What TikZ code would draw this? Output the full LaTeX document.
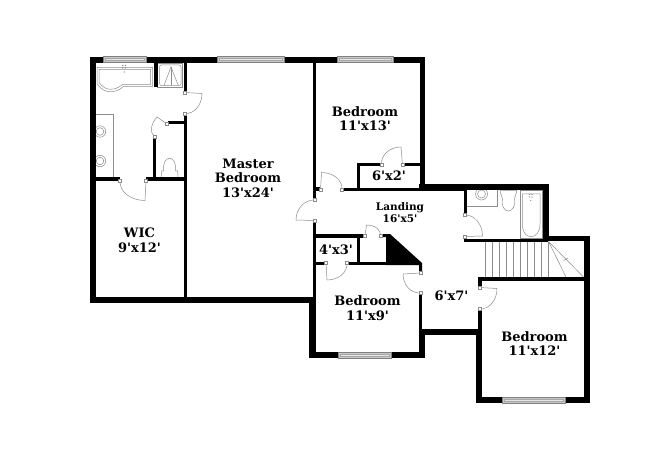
\documentclass[tikz,border=0pt]{standalone}
\usepackage{fontspec}
\newfontfamily\planfont{DejaVu Serif}
\usetikzlibrary{calc}
\tikzstyle{every node}=[font=\planfont\bfseries\fontsize{13}{14.5}\selectfont, text=black, align=center, inner sep=0pt]
\tikzstyle{wall} = [fill=black]
\tikzstyle{fixture} = [draw=black!45, line width=0.5pt]
\tikzstyle{window} = [draw=black!50, fill=black!22, line width=0.6pt]
\tikzstyle{jamb} = [draw=black!45, fill=white, line width=0.4pt]
\tikzstyle{small} = [font=\planfont\bfseries\fontsize{10.5}{12}\selectfont]
% door: hinge, end of the open leaf, other jamb
\newcommand{\doorswing}[3]{
  \draw [fixture] (#1) -- (#2) .. controls ($(#2)+0.55*(#3)-0.55*(#1)$) and ($(#3)+0.55*(#2)-0.55*(#1)$) .. (#3);
  \draw [jamb] ($(#1)+(-1.5,-1.5)$) rectangle ($(#1)+(1.5,1.5)$);
  \draw [jamb] ($(#3)+(-1.5,-1.5)$) rectangle ($(#3)+(1.5,1.5)$);
}
\begin{document}
\begin{tikzpicture}[x=1pt, y=-1pt]
  \useasboundingbox [fill=white] (0,0) rectangle (650,473);
  % master bath fixtures
  \draw [fixture] (97,67.5) -- (152.5,67.5) -- (152.5,86.5) -- (123.5,86.5) .. controls (116,93) and (105,95) .. (97,84) -- cycle;
  \draw [fixture] (99,69.5) -- (150.5,69.5) -- (150.5,84.5) -- (122.5,84.5) .. controls (115,90.5) and (106,92) .. (99,82.5) -- cycle;
  \fill [black!55] (122.8,65.5) circle (0.7) (125.3,65.5) circle (0.7) (122.8,68) circle (0.7) (125.3,68) circle (0.7) (124.3,72) circle (0.6);
  \draw [fixture] (157.5,63) rectangle (182.5,87);
  \draw [fixture, rounded corners=2pt] (159.5,65) rectangle (181,85.5);
  \draw [fixture] (164,85.5) -- (171,67) -- (178.3,85.5);
  \draw [fixture] (171,67) -- (171,85.5);
  \draw [fixture] (96,114.5) -- (113.5,114.5) -- (113.5,177.5);
  \foreach \ys in {131.5,161} {
    \draw [fixture] (100,\ys) circle (5.7);
    \draw [fixture] (100,\ys) circle (3.8);
  }
  \draw [fixture] (161,178) -- (161.7,171) -- (163.5,171) .. controls (163,162) and (166,158.3) .. (169.5,158.3) .. controls (173,158.3) and (176,162) .. (175.7,171) -- (177.7,171) -- (178,178);
  % hall bath fixtures
  \draw [fixture] (466.5,206.5) -- (497.5,206.5) -- (497.5,190.5);
  \draw [fixture] (481.5,194) circle (6);
  \draw [fixture] (481.5,194) circle (4);
  \draw [fixture] (500,190.5) -- (516.7,190.5) .. controls (516.7,195) and (514,196) .. (514.5,199) .. controls (516,206) and (512,211) .. (508.3,211) .. controls (504.5,211) and (501,206) .. (502.5,199) .. controls (503,196) and (500,195) .. (500,190.5);
  \draw [fixture] (520,190.5) rectangle (542.5,238.5);
  \draw [fixture] (522.3,194) -- (540,194) -- (540,224) .. controls (540,232) and (536,236.7) .. (531,236.7) .. controls (526,236.7) and (522.3,232) .. (522.3,224) -- cycle;
  \fill [black!55] (529.7,194.5) circle (0.7) (532,194.5) circle (0.7) (529.7,197) circle (0.7) (532,197) circle (0.7) (530.8,200.7) circle (0.6);
  % stairs
  \foreach \xs in {485,492.5,499.5,506,513.5,520.5,527.5,534.5,541.5,548.5}
    \draw [fixture] (\xs,241.5) -- (\xs,277);
  \draw [fixture] (548.5,241.5) -- (566,277);
  \draw [fixture] (548.5,241.5) -- (583.5,277);
  \draw [fixture] (563.5,260.5) -- (568,258);
  % outer walls
  \fill [wall] (90,57.5) rectangle (425,63);
  \fill [wall] (90,57.5) rectangle (96,302.5);
  \fill [wall] (90,297) rectangle (315,302.5);
  \fill [wall] (419.5,57.5) rectangle (425,191);
  \fill [wall] (419,184.5) rectangle (465,191);
  \fill [wall] (440,184.5) rectangle (548.5,190.5);
  \fill [wall] (542.5,184.5) rectangle (548.5,241);
  \fill [wall] (542.5,235.5) rectangle (590,241);
  \fill [wall] (584,235.5) rectangle (590,403);
  \fill [wall] (476,397) rectangle (590,403);
  \fill [wall] (476,329) rectangle (481.5,403);
  \fill [wall] (478,309) rectangle (481.5,330);
  \fill [wall] (419,329) rectangle (481,334.5);
  \fill [wall] (419,329) rectangle (425,358);
  \fill [wall] (419,295) rectangle (422,330);
  \fill [wall] (309,352) rectangle (425,358);
  \fill [wall] (309,297) rectangle (315.5,358);
  % inner walls
  \fill [wall] (154,63) rectangle (157.5,87.5);
  \fill [wall] (183.5,63) rectangle (186.5,92);
  \fill [wall] (183.5,113) rectangle (186.5,298);
  \fill [wall] (168,121) rectangle (184,124.5);
  \fill [wall] (152.5,138) rectangle (155.5,180);
  \fill [wall] (96,177.5) rectangle (119.5,181);
  \fill [wall] (146,177.5) rectangle (184,181);
  \fill [wall] (313,63) rectangle (316,187);
  \fill [wall] (313,187) rectangle (320,191);
  \fill [wall] (313,187) rectangle (316,200);
  \fill [wall] (342,188) rectangle (420,191);
  \fill [wall] (357,163) rectangle (360,190);
  \fill [wall] (357,163) rectangle (382,166);
  \fill [wall] (403,163) rectangle (420,166);
  \fill [wall] (463.5,190) rectangle (466.5,214);
  \fill [wall] (463.5,238.5) rectangle (548,241.5);
  \fill [wall] (478,277) rectangle (584,280.5);
  \fill [wall] (478,277) rectangle (481.5,287);
  \fill [wall] (312.5,221) rectangle (315.5,298);
  \fill [wall] (313,234) rectangle (364,237.5);
  \fill [wall] (357,234) rectangle (360,265);
  \fill [wall] (313,262) rectangle (325,265);
  \fill [wall] (347,262) rectangle (420,265);
  % stair block
  \fill [wall] (382,234) -- (390,234) -- (422,263) -- (422,271) -- (419,271) -- (419,265) -- (386,265) -- (386,237) -- (382,237) -- cycle;
  % windows
  \foreach \xa/\xb/\ya in {103/146/56.5, 217/284/56.5, 337/393/56.5, 338/391/352.5, 502/565/397.5} {
    \draw [window] (\xa,\ya) rectangle (\xb,\ya+5.5);
    \draw [draw=black!35, fill=black!10, line width=0.3pt] (\xa+2,\ya+1.7) rectangle (\xb-2,\ya+3.8);
  }
  % doors
  \doorswing{146,181}{145,200.5}{120,181}
  \doorswing{185,92.5}{202,93.5}{185,113.5}
  \doorswing{167,124}{157,117}{155,137}
  \doorswing{320.5,189.5}{321.5,172.5}{342,189.5}
  \doorswing{314.5,220.5}{296,220}{314.5,200}
  \doorswing{402.5,165}{401,147}{381.5,165}
  \doorswing{465,236.5}{482.5,236}{465,215}
  \doorswing{365,236}{366.5,225}{380.5,236}
  \doorswing{326,263}{327,280}{347,263}
  \doorswing{420.5,273}{403,274}{420.5,293}
  \doorswing{479.5,287.5}{497,288.5}{479.5,309}
  % labels
  \node (master) at (248,178) {Master\\Bedroom\\13'x24'};
  \node (bedtop) at (365,118.5) {Bedroom\\11'x13'};
  \node (closettop) at (389,176) {6'x2'};
  \node (wic) at (139.5,240.5) {WIC\\9'x12'};
  \node (landing) [small] at (400,213) {Landing\\16'x5'};
  \node (closetlow) at (336,249.5) {4'x3'};
  \node (bedlow) at (367.5,308) {Bedroom\\11'x9'};
  \node (hall) at (451.5,296) {6'x7'};
  \node (bedright) at (534.5,343.5) {Bedroom\\11'x12'};
\end{tikzpicture}
\end{document}
